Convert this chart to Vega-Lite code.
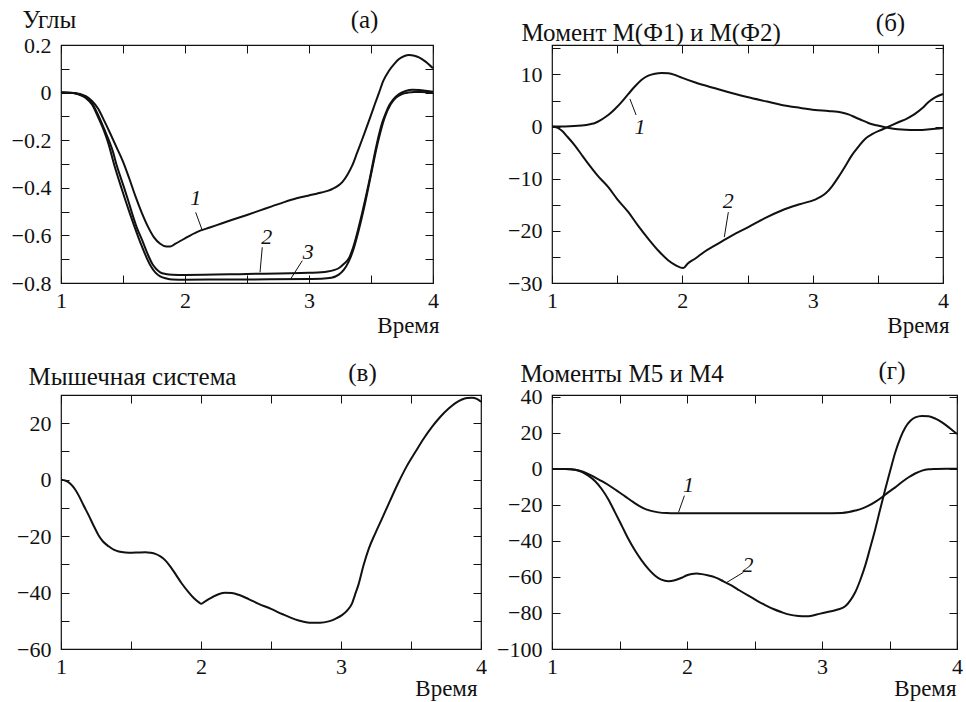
{
"$schema": "https://vega.github.io/schema/vega-lite/v6.json",
"background": "white",
"padding": {"left": 10, "top": 6, "right": 0, "bottom": 0},
"autosize": {"type": "pad"},
"datasets": {
"A": [
{"c":1,"t":1,"v":0},{"c":1,"t":1.1,"v":-0.002},{"c":1,"t":1.2,"v":-0.015},{"c":1,"t":1.25,"v":-0.035},{"c":1,"t":1.3,"v":-0.068},{"c":1,"t":1.35,"v":-0.12},{"c":1,"t":1.4,"v":-0.175},{"c":1,"t":1.45,"v":-0.232},{"c":1,"t":1.5,"v":-0.29},{"c":1,"t":1.55,"v":-0.36},{"c":1,"t":1.6,"v":-0.435},{"c":1,"t":1.65,"v":-0.503},{"c":1,"t":1.7,"v":-0.562},{"c":1,"t":1.75,"v":-0.608},{"c":1,"t":1.8,"v":-0.635},{"c":1,"t":1.85,"v":-0.647},{"c":1,"t":1.88,"v":-0.647},{"c":1,"t":1.92,"v":-0.636},{"c":1,"t":2.0,"v":-0.612},{"c":1,"t":2.1,"v":-0.585},{"c":1,"t":2.2,"v":-0.567},{"c":1,"t":2.3,"v":-0.549},{"c":1,"t":2.4,"v":-0.531},{"c":1,"t":2.5,"v":-0.514},{"c":1,"t":2.6,"v":-0.496},{"c":1,"t":2.7,"v":-0.478},{"c":1,"t":2.8,"v":-0.46},{"c":1,"t":2.9,"v":-0.444},{"c":1,"t":3.0,"v":-0.432},{"c":1,"t":3.054,"v":-0.426},{"c":1,"t":3.1,"v":-0.42},{"c":1,"t":3.15,"v":-0.413},{"c":1,"t":3.188,"v":-0.405},{"c":1,"t":3.23,"v":-0.393},{"c":1,"t":3.27,"v":-0.375},{"c":1,"t":3.31,"v":-0.345},{"c":1,"t":3.35,"v":-0.305},{"c":1,"t":3.39,"v":-0.25},{"c":1,"t":3.43,"v":-0.195},{"c":1,"t":3.465,"v":-0.145},{"c":1,"t":3.5,"v":-0.095},{"c":1,"t":3.53,"v":-0.05},{"c":1,"t":3.565,"v":0.0},{"c":1,"t":3.6,"v":0.05},{"c":1,"t":3.645,"v":0.092},{"c":1,"t":3.69,"v":0.122},{"c":1,"t":3.726,"v":0.141},{"c":1,"t":3.77,"v":0.154},{"c":1,"t":3.806,"v":0.158},{"c":1,"t":3.85,"v":0.155},{"c":1,"t":3.887,"v":0.148},{"c":1,"t":3.94,"v":0.13},{"c":1,"t":4.0,"v":0.102},
{"c":2,"t":1,"v":0},{"c":2,"t":1.1,"v":-0.002},{"c":2,"t":1.15,"v":-0.008},{"c":2,"t":1.2,"v":-0.02},{"c":2,"t":1.25,"v":-0.045},{"c":2,"t":1.3,"v":-0.095},{"c":2,"t":1.35,"v":-0.155},{"c":2,"t":1.387,"v":-0.202},{"c":2,"t":1.42,"v":-0.25},{"c":2,"t":1.446,"v":-0.3},{"c":2,"t":1.48,"v":-0.355},{"c":2,"t":1.508,"v":-0.398},{"c":2,"t":1.54,"v":-0.45},{"c":2,"t":1.575,"v":-0.51},{"c":2,"t":1.61,"v":-0.565},{"c":2,"t":1.656,"v":-0.622},{"c":2,"t":1.7,"v":-0.68},{"c":2,"t":1.737,"v":-0.72},{"c":2,"t":1.77,"v":-0.742},{"c":2,"t":1.8,"v":-0.755},{"c":2,"t":1.844,"v":-0.762},{"c":2,"t":1.9,"v":-0.765},{"c":2,"t":2.0,"v":-0.766},{"c":2,"t":2.5,"v":-0.762},{"c":2,"t":3.0,"v":-0.757},{"c":2,"t":3.1,"v":-0.755},{"c":2,"t":3.15,"v":-0.752},{"c":2,"t":3.2,"v":-0.746},{"c":2,"t":3.242,"v":-0.737},{"c":2,"t":3.28,"v":-0.72},{"c":2,"t":3.323,"v":-0.695},{"c":2,"t":3.35,"v":-0.66},{"c":2,"t":3.376,"v":-0.615},{"c":2,"t":3.43,"v":-0.503},{"c":2,"t":3.484,"v":-0.377},{"c":2,"t":3.538,"v":-0.237},{"c":2,"t":3.565,"v":-0.175},{"c":2,"t":3.591,"v":-0.125},{"c":2,"t":3.62,"v":-0.085},{"c":2,"t":3.645,"v":-0.055},{"c":2,"t":3.68,"v":-0.028},{"c":2,"t":3.726,"v":-0.006},{"c":2,"t":3.78,"v":0.007},{"c":2,"t":3.833,"v":0.012},{"c":2,"t":3.89,"v":0.011},{"c":2,"t":3.94,"v":0.008},{"c":2,"t":4.0,"v":0.004},
{"c":3,"t":1,"v":0},{"c":3,"t":1.1,"v":-0.002},{"c":3,"t":1.15,"v":-0.009},{"c":3,"t":1.2,"v":-0.023},{"c":3,"t":1.25,"v":-0.05},{"c":3,"t":1.3,"v":-0.104},{"c":3,"t":1.35,"v":-0.165},{"c":3,"t":1.38,"v":-0.21},{"c":3,"t":1.43,"v":-0.305},{"c":3,"t":1.49,"v":-0.405},{"c":3,"t":1.56,"v":-0.515},{"c":3,"t":1.64,"v":-0.63},{"c":3,"t":1.72,"v":-0.725},{"c":3,"t":1.76,"v":-0.755},{"c":3,"t":1.8,"v":-0.772},{"c":3,"t":1.85,"v":-0.781},{"c":3,"t":1.9,"v":-0.785},{"c":3,"t":2.0,"v":-0.786},{"c":3,"t":2.5,"v":-0.785},{"c":3,"t":3.0,"v":-0.783},{"c":3,"t":3.1,"v":-0.782},{"c":3,"t":3.18,"v":-0.778},{"c":3,"t":3.24,"v":-0.765},{"c":3,"t":3.28,"v":-0.745},{"c":3,"t":3.32,"v":-0.71},{"c":3,"t":3.35,"v":-0.672},{"c":3,"t":3.4,"v":-0.58},{"c":3,"t":3.45,"v":-0.47},{"c":3,"t":3.5,"v":-0.345},{"c":3,"t":3.555,"v":-0.21},{"c":3,"t":3.61,"v":-0.105},{"c":3,"t":3.66,"v":-0.048},{"c":3,"t":3.7,"v":-0.022},{"c":3,"t":3.75,"v":-0.006},{"c":3,"t":3.8,"v":0.0},{"c":3,"t":3.85,"v":0.002},{"c":3,"t":3.9,"v":0.002},{"c":3,"t":4.0,"v":0.0}
],
"Alab": [{"t":2.086,"v":-0.444,"label":"1"},{"t":2.66,"v":-0.605,"label":"2"},{"t":2.993,"v":-0.668,"label":"3"}],
"Alead": [{"t1":2.086,"v1":-0.503,"t2":2.14,"v2":-0.58},{"t1":2.623,"v1":-0.65,"t2":2.605,"v2":-0.755},{"t1":2.946,"v1":-0.706,"t2":2.852,"v2":-0.783}],
"B": [
{"c":1,"t":1,"v":0},{"c":1,"t":1.1,"v":0.02},{"c":1,"t":1.228,"v":0.19},{"c":1,"t":1.3,"v":0.5},{"c":1,"t":1.33,"v":0.7},{"c":1,"t":1.37,"v":1.2},{"c":1,"t":1.407,"v":1.79},{"c":1,"t":1.45,"v":2.6},{"c":1,"t":1.483,"v":3.38},{"c":1,"t":1.53,"v":4.6},{"c":1,"t":1.586,"v":6.26},{"c":1,"t":1.637,"v":7.73},{"c":1,"t":1.688,"v":9.0},{"c":1,"t":1.739,"v":9.77},{"c":1,"t":1.79,"v":10.15},{"c":1,"t":1.841,"v":10.28},{"c":1,"t":1.893,"v":10.22},{"c":1,"t":1.944,"v":9.9},{"c":1,"t":1.995,"v":9.39},{"c":1,"t":2.1,"v":8.45},{"c":1,"t":2.251,"v":7.34},{"c":1,"t":2.4,"v":6.3},{"c":1,"t":2.506,"v":5.62},{"c":1,"t":2.65,"v":4.8},{"c":1,"t":2.762,"v":4.15},{"c":1,"t":2.9,"v":3.6},{"c":1,"t":3.018,"v":3.2},{"c":1,"t":3.12,"v":3.0},{"c":1,"t":3.222,"v":2.72},{"c":1,"t":3.28,"v":2.3},{"c":1,"t":3.325,"v":1.79},{"c":1,"t":3.38,"v":1.2},{"c":1,"t":3.427,"v":0.7},{"c":1,"t":3.49,"v":0.25},{"c":1,"t":3.555,"v":-0.13},{"c":1,"t":3.62,"v":-0.4},{"c":1,"t":3.683,"v":-0.57},{"c":1,"t":3.75,"v":-0.63},{"c":1,"t":3.811,"v":-0.64},{"c":1,"t":3.9,"v":-0.5},{"c":1,"t":4.0,"v":-0.26},
{"c":2,"t":1,"v":0},{"c":2,"t":1.04,"v":-0.2},{"c":2,"t":1.074,"v":-0.77},{"c":2,"t":1.12,"v":-2.0},{"c":2,"t":1.176,"v":-3.64},{"c":2,"t":1.23,"v":-5.5},{"c":2,"t":1.279,"v":-7.15},{"c":2,"t":1.35,"v":-9.4},{"c":2,"t":1.432,"v":-11.62},{"c":2,"t":1.5,"v":-13.9},{"c":2,"t":1.586,"v":-16.41},{"c":2,"t":1.66,"v":-19.0},{"c":2,"t":1.739,"v":-21.52},{"c":2,"t":1.82,"v":-23.9},{"c":2,"t":1.893,"v":-25.67},{"c":2,"t":1.95,"v":-26.6},{"c":2,"t":2.008,"v":-27.14},{"c":2,"t":2.04,"v":-26.3},{"c":2,"t":2.097,"v":-25.35},{"c":2,"t":2.17,"v":-24.0},{"c":2,"t":2.251,"v":-22.8},{"c":2,"t":2.38,"v":-20.9},{"c":2,"t":2.506,"v":-19.28},{"c":2,"t":2.63,"v":-17.6},{"c":2,"t":2.762,"v":-16.09},{"c":2,"t":2.9,"v":-14.9},{"c":2,"t":3.018,"v":-14.0},{"c":2,"t":3.06,"v":-13.5},{"c":2,"t":3.1,"v":-12.8},{"c":2,"t":3.15,"v":-11.4},{"c":2,"t":3.197,"v":-9.7},{"c":2,"t":3.25,"v":-7.6},{"c":2,"t":3.299,"v":-5.56},{"c":2,"t":3.35,"v":-3.9},{"c":2,"t":3.402,"v":-2.36},{"c":2,"t":3.46,"v":-1.4},{"c":2,"t":3.529,"v":-0.6},{"c":2,"t":3.6,"v":0.2},{"c":2,"t":3.657,"v":0.83},{"c":2,"t":3.72,"v":1.5},{"c":2,"t":3.785,"v":2.43},{"c":2,"t":3.84,"v":3.5},{"c":2,"t":3.887,"v":4.66},{"c":2,"t":3.94,"v":5.6},{"c":2,"t":4.0,"v":6.26}
],
"Blab": [{"t":1.675,"v":-0.13,"label":"1"},{"t":2.353,"v":-14.3,"label":"2"}],
"Blead": [{"t1":1.598,"v1":5.3,"t2":1.645,"v2":2.23},{"t1":2.353,"v1":-16.41,"t2":2.322,"v2":-21.2}],
"C": [
{"t":1,"v":0},{"t":1.03,"v":-0.3},{"t":1.067,"v":-1.42},{"t":1.1,"v":-3.4},{"t":1.126,"v":-5.56},{"t":1.16,"v":-9.0},{"t":1.198,"v":-12.66},{"t":1.235,"v":-16.5},{"t":1.269,"v":-19.76},{"t":1.3,"v":-21.9},{"t":1.34,"v":-23.6},{"t":1.38,"v":-24.9},{"t":1.412,"v":-25.44},{"t":1.46,"v":-25.8},{"t":1.507,"v":-25.9},{"t":1.55,"v":-25.8},{"t":1.602,"v":-25.7},{"t":1.64,"v":-25.9},{"t":1.674,"v":-26.3},{"t":1.71,"v":-27.2},{"t":1.745,"v":-28.6},{"t":1.78,"v":-30.7},{"t":1.817,"v":-33.4},{"t":1.86,"v":-36.6},{"t":1.912,"v":-39.9},{"t":1.95,"v":-42.0},{"t":1.983,"v":-43.4},{"t":2.002,"v":-44.0},{"t":2.03,"v":-43.1},{"t":2.079,"v":-41.7},{"t":2.13,"v":-40.5},{"t":2.174,"v":-40.1},{"t":2.22,"v":-40.2},{"t":2.269,"v":-40.8},{"t":2.34,"v":-42.3},{"t":2.412,"v":-44.0},{"t":2.5,"v":-45.8},{"t":2.579,"v":-47.6},{"t":2.64,"v":-48.9},{"t":2.698,"v":-49.9},{"t":2.75,"v":-50.5},{"t":2.793,"v":-50.7},{"t":2.85,"v":-50.7},{"t":2.912,"v":-50.2},{"t":2.96,"v":-49.3},{"t":3.007,"v":-48.0},{"t":3.045,"v":-46.3},{"t":3.079,"v":-43.8},{"t":3.1,"v":-40.8},{"t":3.126,"v":-37.0},{"t":3.16,"v":-30.5},{"t":3.198,"v":-24.5},{"t":3.245,"v":-19.0},{"t":3.293,"v":-13.8},{"t":3.35,"v":-7.5},{"t":3.412,"v":-0.83},{"t":3.47,"v":4.8},{"t":3.531,"v":9.8},{"t":3.59,"v":14.5},{"t":3.65,"v":18.7},{"t":3.71,"v":22.3},{"t":3.769,"v":25.2},{"t":3.82,"v":27.2},{"t":3.864,"v":28.4},{"t":3.9,"v":28.9},{"t":3.936,"v":29.0},{"t":3.97,"v":28.6},{"t":4.0,"v":27.6}
],
"D": [
{"c":1,"t":1,"v":0},{"c":1,"t":1.1,"v":-0.05},{"c":1,"t":1.171,"v":-0.37},{"c":1,"t":1.23,"v":-1.5},{"c":1,"t":1.294,"v":-3.7},{"c":1,"t":1.35,"v":-6.0},{"c":1,"t":1.418,"v":-8.9},{"c":1,"t":1.48,"v":-12.0},{"c":1,"t":1.541,"v":-15.2},{"c":1,"t":1.6,"v":-18.3},{"c":1,"t":1.665,"v":-21.3},{"c":1,"t":1.72,"v":-23.0},{"c":1,"t":1.788,"v":-24.1},{"c":1,"t":1.85,"v":-24.5},{"c":1,"t":1.912,"v":-24.6},{"c":1,"t":2.2,"v":-24.6},{"c":1,"t":2.6,"v":-24.6},{"c":1,"t":3.0,"v":-24.6},{"c":1,"t":3.147,"v":-24.4},{"c":1,"t":3.2,"v":-23.9},{"c":1,"t":3.246,"v":-23.1},{"c":1,"t":3.3,"v":-21.9},{"c":1,"t":3.345,"v":-20.4},{"c":1,"t":3.4,"v":-18.0},{"c":1,"t":3.444,"v":-15.7},{"c":1,"t":3.49,"v":-13.0},{"c":1,"t":3.543,"v":-10.2},{"c":1,"t":3.59,"v":-7.4},{"c":1,"t":3.642,"v":-4.6},{"c":1,"t":3.69,"v":-2.5},{"c":1,"t":3.741,"v":-0.9},{"c":1,"t":3.79,"v":-0.2},{"c":1,"t":3.839,"v":0.0},{"c":1,"t":3.92,"v":0.2},{"c":1,"t":4.0,"v":0.2},
{"c":2,"t":1,"v":0},{"c":2,"t":1.1,"v":-0.05},{"c":2,"t":1.171,"v":-0.4},{"c":2,"t":1.22,"v":-1.6},{"c":2,"t":1.269,"v":-3.7},{"c":2,"t":1.32,"v":-6.8},{"c":2,"t":1.368,"v":-11.1},{"c":2,"t":1.42,"v":-17.2},{"c":2,"t":1.467,"v":-24.1},{"c":2,"t":1.52,"v":-32.0},{"c":2,"t":1.566,"v":-38.9},{"c":2,"t":1.615,"v":-45.3},{"c":2,"t":1.665,"v":-50.9},{"c":2,"t":1.715,"v":-55.6},{"c":2,"t":1.764,"v":-59.3},{"c":2,"t":1.81,"v":-61.5},{"c":2,"t":1.862,"v":-62.3},{"c":2,"t":1.91,"v":-61.8},{"c":2,"t":1.961,"v":-60.4},{"c":2,"t":2.0,"v":-59.0},{"c":2,"t":2.035,"v":-58.3},{"c":2,"t":2.07,"v":-58.1},{"c":2,"t":2.11,"v":-58.4},{"c":2,"t":2.16,"v":-59.2},{"c":2,"t":2.208,"v":-60.2},{"c":2,"t":2.27,"v":-62.4},{"c":2,"t":2.332,"v":-64.8},{"c":2,"t":2.39,"v":-67.5},{"c":2,"t":2.455,"v":-70.4},{"c":2,"t":2.52,"v":-73.2},{"c":2,"t":2.579,"v":-75.6},{"c":2,"t":2.64,"v":-77.8},{"c":2,"t":2.703,"v":-79.6},{"c":2,"t":2.76,"v":-80.9},{"c":2,"t":2.826,"v":-81.6},{"c":2,"t":2.88,"v":-81.8},{"c":2,"t":2.925,"v":-81.5},{"c":2,"t":2.98,"v":-80.5},{"c":2,"t":3.049,"v":-79.3},{"c":2,"t":3.11,"v":-78.2},{"c":2,"t":3.172,"v":-76.3},{"c":2,"t":3.21,"v":-73.0},{"c":2,"t":3.246,"v":-68.5},{"c":2,"t":3.283,"v":-61.8},{"c":2,"t":3.32,"v":-53.7},{"c":2,"t":3.357,"v":-43.8},{"c":2,"t":3.395,"v":-33.3},{"c":2,"t":3.43,"v":-22.7},{"c":2,"t":3.469,"v":-11.1},{"c":2,"t":3.505,"v":-1.0},{"c":2,"t":3.543,"v":9.3},{"c":2,"t":3.58,"v":17.2},{"c":2,"t":3.617,"v":23.1},{"c":2,"t":3.655,"v":26.8},{"c":2,"t":3.691,"v":28.7},{"c":2,"t":3.74,"v":29.5},{"c":2,"t":3.79,"v":29.3},{"c":2,"t":3.84,"v":28.0},{"c":2,"t":3.889,"v":25.9},{"c":2,"t":3.945,"v":22.8},{"c":2,"t":4.0,"v":19.4}
],
"Dlab": [{"t":2.011,"v":-8.9,"label":"1"},{"t":2.451,"v":-53.1,"label":"2"}],
"Dlead": [{"t1":1.981,"v1":-14.8,"t2":1.937,"v2":-24.1},{"t1":2.418,"v1":-57.4,"t2":2.295,"v2":-63.0}]
},
"columns": 2,
"bounds": "flush",
"align": "all",
"spacing": {"column": 71, "row": 96},
"concat": [
{
"width": 372, "height": 238,
"layer": [
{"data": {"name": "A"}, "mark": {"type": "line", "interpolate": "monotone", "strokeWidth": 2, "color": "#111111"},
 "encoding": {
  "x": {"field": "t", "type": "quantitative", "scale": {"domain": [1, 4], "nice": false, "zero": false},
   "axis": {"orient": "bottom", "values": [1, 1.5, 2, 2.5, 3, 3.5, 4], "labelExpr": "datum.value % 1 === 0 ? format(datum.value, 'd') : ''", "labelFont": "Liberation Serif", "labelFontSize": 22, "title": "Время", "titleFont": "Liberation Serif", "titleFontSize": 23, "titleX": 378, "titleY": 49, "titleAlign": "right", "titleBaseline": "alphabetic"}},
  "y": {"field": "v", "type": "quantitative", "scale": {"domain": [-0.8, 0.2], "nice": false, "zero": false},
   "axis": {"orient": "left", "values": [-0.8, -0.7, -0.6, -0.5, -0.4, -0.3, -0.2, -0.1, 0, 0.1, 0.2], "labelExpr": "round(datum.value * 10) % 2 === 0 ? format(datum.value, '.1~f') : ''", "labelFont": "Liberation Serif", "labelFontSize": 22, "title": "Углы", "titleFont": "Liberation Serif", "titleFontSize": 25, "titleX": -39, "titleY": -18, "titleAngle": 0, "titleAlign": "left", "titleBaseline": "alphabetic"}},
  "detail": {"field": "c"}
 }},
{"data": {"name": "Alab"}, "mark": {"type": "text", "font": "Liberation Serif", "fontStyle": "italic", "fontSize": 22, "align": "center", "baseline": "middle", "color": "#111111"},
 "encoding": {
  "x": {"field": "t", "type": "quantitative", "axis": {"orient": "top", "values": [1, 1.5, 2, 2.5, 3, 3.5, 4], "labels": false, "title": "(а)", "titleFont": "Liberation Serif", "titleFontSize": 25, "titleX": 303, "titleY": -18, "titleAlign": "center", "titleBaseline": "alphabetic"}},
  "y": {"field": "v", "type": "quantitative", "axis": {"orient": "right", "values": [-0.8, -0.7, -0.6, -0.5, -0.4, -0.3, -0.2, -0.1, 0, 0.1, 0.2], "labels": false, "title": null}},
  "text": {"field": "label"}
 }},
{"data": {"name": "Alead"}, "mark": {"type": "rule", "strokeWidth": 1, "color": "#111111"},
 "encoding": {
  "x": {"field": "t1", "type": "quantitative", "axis": null}, "y": {"field": "v1", "type": "quantitative", "axis": null},
  "x2": {"field": "t2"}, "y2": {"field": "v2"}
 }}
],
"resolve": {"axis": {"x": "independent", "y": "independent"}}
},
{
"width": 391, "height": 238,
"layer": [
{"data": {"name": "B"}, "mark": {"type": "line", "interpolate": "monotone", "strokeWidth": 2, "color": "#111111"},
 "encoding": {
  "x": {"field": "t", "type": "quantitative", "scale": {"domain": [1, 4], "nice": false, "zero": false},
   "axis": {"orient": "bottom", "values": [1, 1.5, 2, 2.5, 3, 3.5, 4], "labelExpr": "datum.value % 1 === 0 ? format(datum.value, 'd') : ''", "labelFont": "Liberation Serif", "labelFontSize": 22, "title": "Время", "titleFont": "Liberation Serif", "titleFontSize": 23, "titleX": 397, "titleY": 49, "titleAlign": "right", "titleBaseline": "alphabetic"}},
  "y": {"field": "v", "type": "quantitative", "scale": {"domain": [-30, 15.65], "nice": false, "zero": false},
   "axis": {"orient": "left", "values": [-30, -25, -20, -15, -10, -5, 0, 5, 10, 15], "labelExpr": "datum.value % 10 === 0 ? format(datum.value, 'd') : ''", "labelFont": "Liberation Serif", "labelFontSize": 22, "title": "Момент М(Ф1) и М(Ф2)", "titleFont": "Liberation Serif", "titleFontSize": 25, "titleX": -31, "titleY": -4.5, "titleAngle": 0, "titleAlign": "left", "titleBaseline": "alphabetic"}},
  "detail": {"field": "c"}
 }},
{"data": {"name": "Blab"}, "mark": {"type": "text", "font": "Liberation Serif", "fontStyle": "italic", "fontSize": 22, "align": "center", "baseline": "middle", "color": "#111111"},
 "encoding": {
  "x": {"field": "t", "type": "quantitative", "axis": {"orient": "top", "values": [1, 1.5, 2, 2.5, 3, 3.5, 4], "labels": false, "title": "(б)", "titleFont": "Liberation Serif", "titleFontSize": 25, "titleX": 338, "titleY": -15, "titleAlign": "center", "titleBaseline": "alphabetic"}},
  "y": {"field": "v", "type": "quantitative", "axis": {"orient": "right", "values": [-30, -25, -20, -15, -10, -5, 0, 5, 10, 15], "labels": false, "title": null}},
  "text": {"field": "label"}
 }},
{"data": {"name": "Blead"}, "mark": {"type": "rule", "strokeWidth": 1, "color": "#111111"},
 "encoding": {
  "x": {"field": "t1", "type": "quantitative", "axis": null}, "y": {"field": "v1", "type": "quantitative", "axis": null},
  "x2": {"field": "t2"}, "y2": {"field": "v2"}
 }}
],
"resolve": {"axis": {"x": "independent", "y": "independent"}}
},
{
"width": 420, "height": 254,
"layer": [
{"data": {"name": "C"}, "mark": {"type": "line", "interpolate": "monotone", "strokeWidth": 2, "color": "#111111"},
 "encoding": {
  "x": {"field": "t", "type": "quantitative", "scale": {"domain": [1, 4], "nice": false, "zero": false},
   "axis": {"orient": "bottom", "values": [1, 1.5, 2, 2.5, 3, 3.5, 4], "labelExpr": "datum.value % 1 === 0 ? format(datum.value, 'd') : ''", "labelFont": "Liberation Serif", "labelFontSize": 22, "title": "Время", "titleFont": "Liberation Serif", "titleFontSize": 23, "titleX": 416, "titleY": 46, "titleAlign": "right", "titleBaseline": "alphabetic"}},
  "y": {"field": "v", "type": "quantitative", "scale": {"domain": [-60, 30], "nice": false, "zero": false},
   "axis": {"orient": "left", "values": [-60, -50, -40, -30, -20, -10, 0, 10, 20, 30], "labelExpr": "datum.value % 20 === 0 ? format(datum.value, 'd') : ''", "labelFont": "Liberation Serif", "labelFontSize": 22, "title": "Мышечная система", "titleFont": "Liberation Serif", "titleFontSize": 25, "titleX": -33, "titleY": -10.7, "titleAngle": 0, "titleAlign": "left", "titleBaseline": "alphabetic"}}
 }},
{"data": {"name": "C"}, "mark": {"type": "line", "opacity": 0},
 "encoding": {
  "x": {"field": "t", "type": "quantitative", "axis": {"orient": "top", "values": [1, 1.5, 2, 2.5, 3, 3.5, 4], "labels": false, "title": "(в)", "titleFont": "Liberation Serif", "titleFontSize": 25, "titleX": 301, "titleY": -14.7, "titleAlign": "center", "titleBaseline": "alphabetic"}},
  "y": {"field": "v", "type": "quantitative", "axis": {"orient": "right", "values": [-60, -50, -40, -30, -20, -10, 0, 10, 20, 30], "labels": false, "title": null}}
 }}
],
"resolve": {"axis": {"x": "independent", "y": "independent"}}
},
{
"width": 405, "height": 254,
"layer": [
{"data": {"name": "D"}, "mark": {"type": "line", "interpolate": "monotone", "strokeWidth": 2, "color": "#111111"},
 "encoding": {
  "x": {"field": "t", "type": "quantitative", "scale": {"domain": [1, 4], "nice": false, "zero": false},
   "axis": {"orient": "bottom", "values": [1, 1.5, 2, 2.5, 3, 3.5, 4], "labelExpr": "datum.value % 1 === 0 ? format(datum.value, 'd') : ''", "labelFont": "Liberation Serif", "labelFontSize": 22, "title": "Время", "titleFont": "Liberation Serif", "titleFontSize": 23, "titleX": 404, "titleY": 46, "titleAlign": "right", "titleBaseline": "alphabetic"}},
  "y": {"field": "v", "type": "quantitative", "scale": {"domain": [-100, 41.11], "nice": false, "zero": false},
   "axis": {"orient": "left", "values": [-100, -80, -60, -40, -20, 0, 20, 40], "labelExpr": "format(datum.value, 'd')", "labelFont": "Liberation Serif", "labelFontSize": 22, "title": "Моменты М5 и М4", "titleFont": "Liberation Serif", "titleFontSize": 25, "titleX": -32, "titleY": -14, "titleAngle": 0, "titleAlign": "left", "titleBaseline": "alphabetic"}},
  "detail": {"field": "c"}
 }},
{"data": {"name": "Dlab"}, "mark": {"type": "text", "font": "Liberation Serif", "fontStyle": "italic", "fontSize": 22, "align": "center", "baseline": "middle", "color": "#111111"},
 "encoding": {
  "x": {"field": "t", "type": "quantitative", "axis": {"orient": "top", "values": [1, 1.5, 2, 2.5, 3, 3.5, 4], "labels": false, "title": "(г)", "titleFont": "Liberation Serif", "titleFontSize": 25, "titleX": 339.5, "titleY": -16.3, "titleAlign": "center", "titleBaseline": "alphabetic"}},
  "y": {"field": "v", "type": "quantitative", "axis": {"orient": "right", "values": [-100, -80, -60, -40, -20, 0, 20, 40], "labels": false, "title": null}},
  "text": {"field": "label"}
 }},
{"data": {"name": "Dlead"}, "mark": {"type": "rule", "strokeWidth": 1, "color": "#111111"},
 "encoding": {
  "x": {"field": "t1", "type": "quantitative", "axis": null}, "y": {"field": "v1", "type": "quantitative", "axis": null},
  "x2": {"field": "t2"}, "y2": {"field": "v2"}
 }}
],
"resolve": {"axis": {"x": "independent", "y": "independent"}}
}
],
"config": {
 "font": "Liberation Serif",
 "view": {"stroke": "#111111", "strokeWidth": 1.2},
 "style": {"guide-label": {"font": "Liberation Serif"}, "guide-title": {"font": "Liberation Serif"}},
 "axis": {"domain": false, "grid": false, "tickSize": -8, "tickColor": "#111111", "tickWidth": 1, "labelFont": "Liberation Serif", "labelFontSize": 22, "labelColor": "#111111", "titleFont": "Liberation Serif", "titleFontSize": 22, "titleFontWeight": "normal", "titleColor": "#111111", "labelFlush": false, "labelOverlap": false, "labelBound": false},
 "axisX": {"labelPadding": 15},
 "axisY": {"labelPadding": 18},
 "text": {"font": "Liberation Serif"}
}
}
